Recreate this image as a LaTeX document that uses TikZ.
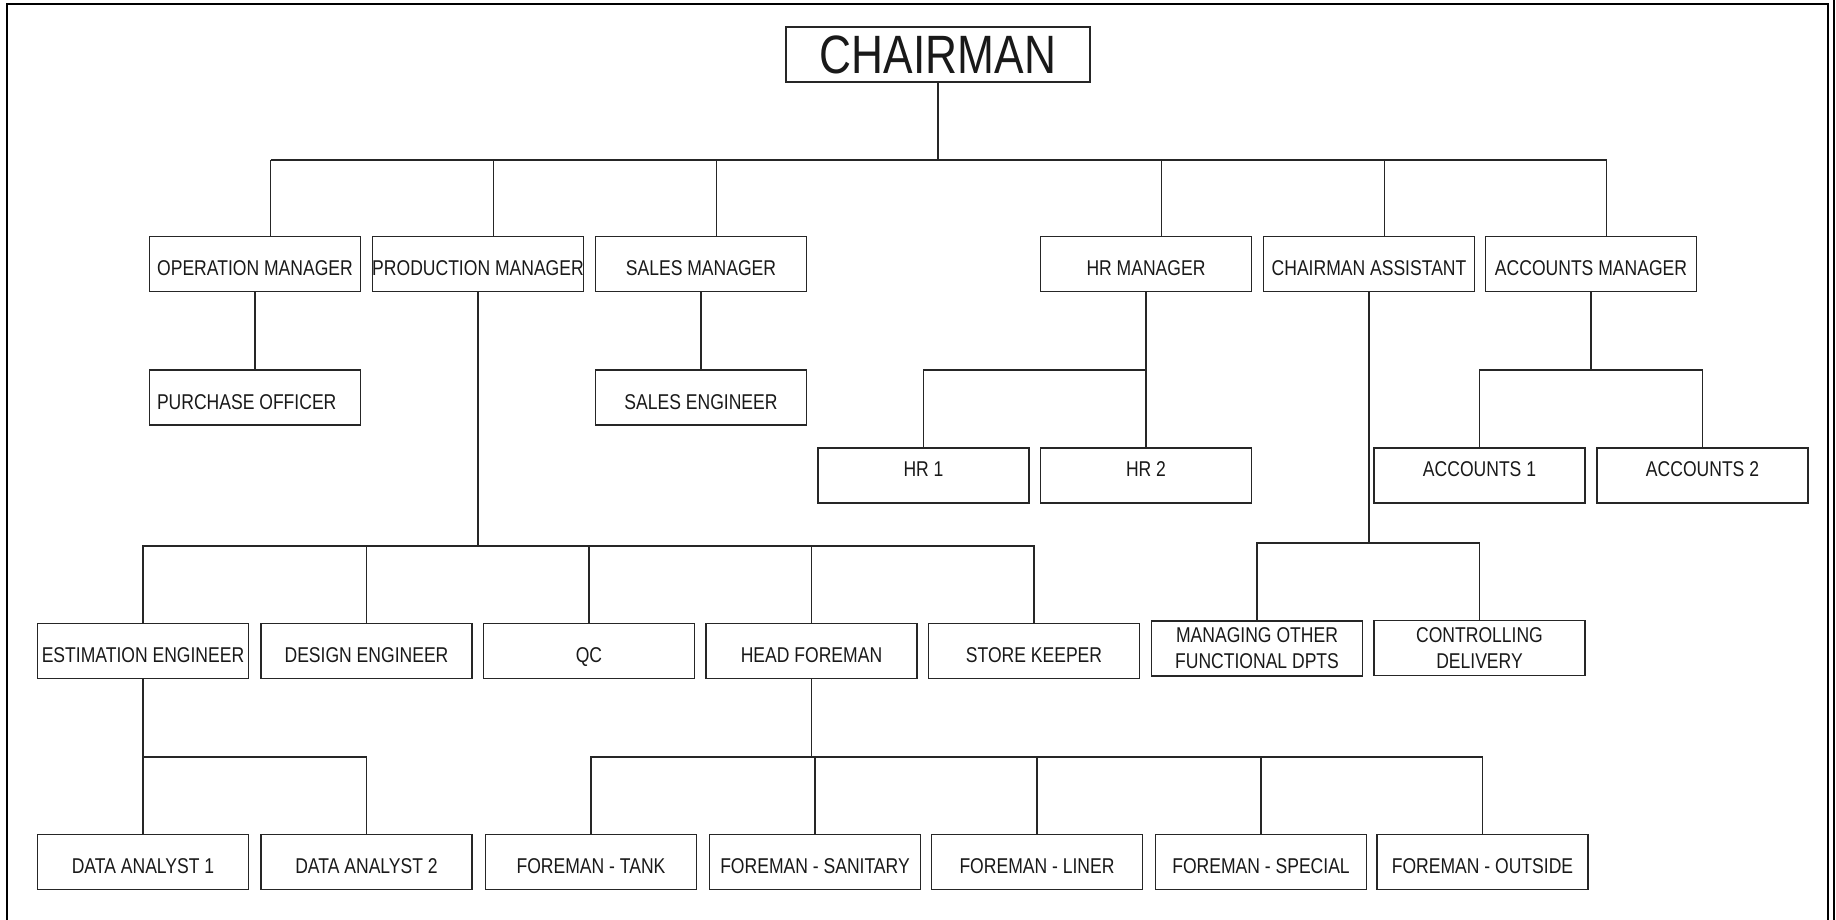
\documentclass[tikz,border=0pt]{standalone}
\usepackage{fontspec}
\setmainfont{Liberation Sans}[FakeStretch=0.82]
\begin{document}
\begin{tikzpicture}[x=1pt,y=-1pt]
\tikzset{
  box/.style={draw=black!85, line width=1.4pt, inner sep=0pt, minimum width=211pt, minimum height=55pt,
    text height=39pt, text depth=16pt, font=\fontsize{21.4}{26}\selectfont, text=black!90},
  boxhi/.style={box, text height=28pt, text depth=27pt},
  boxtwo/.style={draw=black!85, line width=1.4pt, inner sep=0pt, minimum width=211pt, minimum height=55pt,
    align=center, font=\fontsize{21.4}{26}\selectfont, text=black!90},
  conn/.style={draw=black!85, line width=1.4pt},
  frame/.style={draw=black, line width=2pt}
}
\useasboundingbox (0,0) rectangle (1836,920);
\draw[frame] (7,920) -- (7,4) -- (1828,4) -- (1828,920);
\draw[frame, line width=1.6pt] (1834,0) -- (1834,920);

% nodes
\node[box, minimum width=304pt, text height=47pt, text depth=8pt, font=\fontsize{54}{60}\selectfont] (CH) at (938,54.5) {CHAIRMAN};

\node[box] (OM)  at (255,264)  {OPERATION MANAGER};
\node[box] (PM)  at (478,264)  {\makebox[0pt]{PRODUCTION MANAGER}};
\node[box] (SM)  at (701,264)  {SALES MANAGER};
\node[box] (HRM) at (1146,264) {HR MANAGER};
\node[box] (CA)  at (1369,264) {CHAIRMAN ASSISTANT};
\node[box] (AM)  at (1591,264) {ACCOUNTS MANAGER};

\node[box] (PO) at (255,397.5) {\makebox[196pt][l]{PURCHASE OFFICER}};
\node[box] (SE) at (701,397.5) {SALES ENGINEER};

\node[boxhi] (HR1) at (923.5,475.5)  {HR 1};
\node[boxhi] (HR2) at (1146,475.5)   {HR 2};
\node[boxhi] (A1)  at (1479.5,475.5) {ACCOUNTS 1};
\node[boxhi] (A2)  at (1702.5,475.5) {ACCOUNTS 2};

\node[box] (EE) at (143,651)    {\makebox[0pt]{ESTIMATION ENGINEER}};
\node[box] (DE) at (366.5,651)  {DESIGN ENGINEER};
\node[box] (QC) at (589,651)    {QC};
\node[box] (HF) at (811.5,651)  {HEAD FOREMAN};
\node[box] (SK) at (1034,651)   {STORE KEEPER};
\node[boxtwo] (MO) at (1257,648.5) {MANAGING OTHER\\FUNCTIONAL DPTS};
\node[boxtwo] (CD) at (1479.5,648) {CONTROLLING\\DELIVERY};

\node[box] (DA1) at (143,862)   {DATA ANALYST 1};
\node[box] (DA2) at (366.5,862) {DATA ANALYST 2};
\node[box] (FT)  at (591,862)   {FOREMAN - TANK};
\node[box] (FS)  at (815,862)   {FOREMAN - SANITARY};
\node[box] (FL)  at (1037,862)  {FOREMAN - LINER};
\node[box] (FSP) at (1261,862)  {FOREMAN - SPECIAL};
\node[box] (FO)  at (1482.5,862){FOREMAN - OUTSIDE};

% junction coordinates
\coordinate (chj) at (CH.south |- 0,160);
\coordinate (hrj) at (HRM.south |- 0,370);
\coordinate (amj) at (AM.south |- 0,370);
\coordinate (pmj) at (PM.south |- 0,546);
\coordinate (caj) at (CA.south |- 0,543);
\coordinate (eej) at (EE.south |- 0,757);
\coordinate (hfj) at (HF.south |- 0,757);

% chairman level
\draw[conn] (CH.south) -- (chj);
\draw[conn] ([xshift=15.5pt]OM.north |- chj) -- ([xshift=15.5pt]AM.north |- chj);
\foreach \n in {OM,PM,SM,HRM,CA,AM}
  \draw[conn] ([xshift=15.5pt]\n.north) -- ([xshift=15.5pt]\n.north |- chj);

% operation & sales
\draw[conn] (OM.south) -- (PO.north);
\draw[conn] (SM.south) -- (SE.north);

% HR
\draw[conn] (HRM.south) -- (HR2.north);
\draw[conn] (HR1.north) |- (hrj);

% accounts
\draw[conn] (AM.south) -- (amj);
\draw[conn] (A1.north) |- (amj);
\draw[conn] (A2.north) |- (amj);

% production
\draw[conn] (PM.south) -- (pmj);
\draw[conn] (EE.north) |- (pmj);
\draw[conn] (SK.north) |- (pmj);
\foreach \n in {DE,QC,HF}
  \draw[conn] (\n.north) -- (\n.north |- pmj);

% chairman assistant
\draw[conn] (CA.south) -- (caj);
\draw[conn] (MO.north) |- (caj);
\draw[conn] (CD.north) |- (caj);

% estimation
\draw[conn] (EE.south) -- (DA1.north);
\draw[conn] (DA2.north) |- (eej);

% head foreman
\draw[conn] (HF.south) -- (hfj);
\draw[conn] (FT.north) |- (hfj);
\draw[conn] (FO.north) |- (hfj);
\foreach \n in {FS,FL,FSP}
  \draw[conn] (\n.north) -- (\n.north |- hfj);
\end{tikzpicture}
\end{document}
